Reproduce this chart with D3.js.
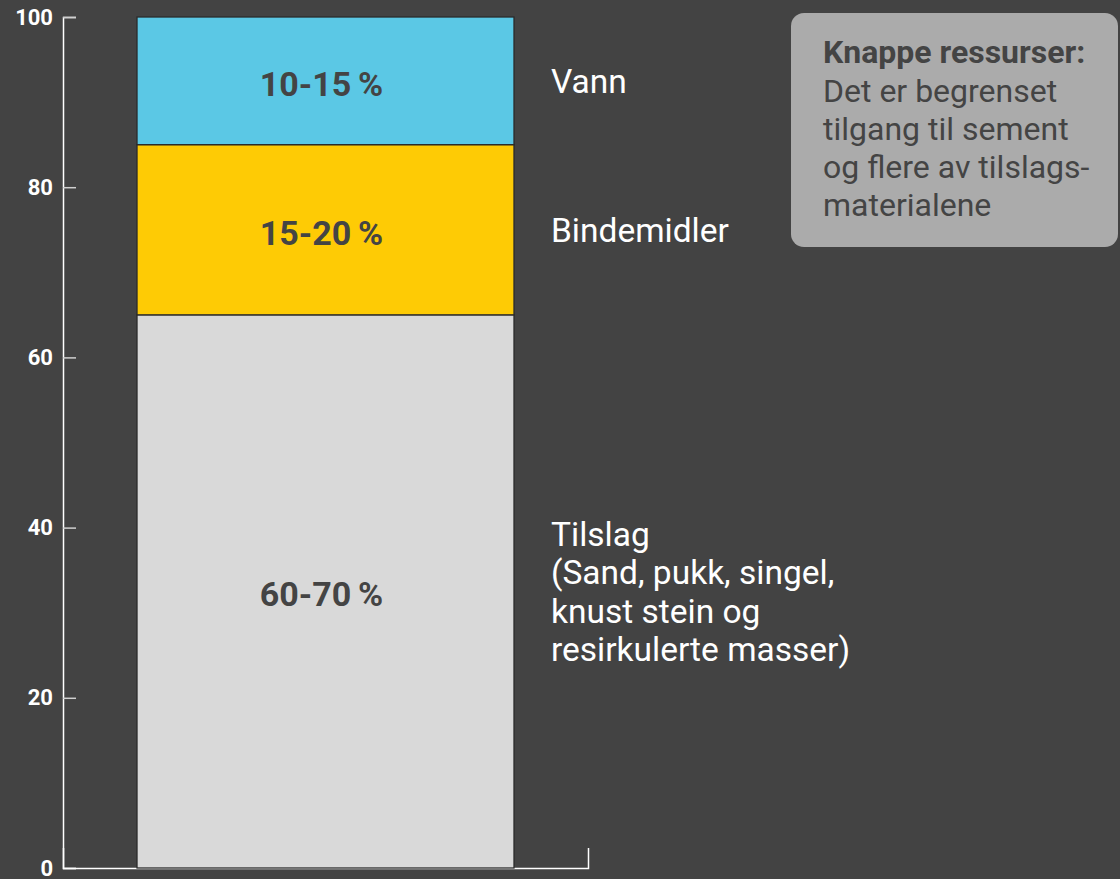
<!DOCTYPE html>
<html>
<head>
<meta charset="utf-8">
<script src="https://cdn.jsdelivr.net/npm/d3@7"></script>
<style>
  html, body { margin: 0; padding: 0; background: #434343; }
  svg { display: block; font-family: Roboto, "Noto Sans", sans-serif; }
</style>
</head>
<body>
<div id="chart"></div>
<script>
// data, bottom to top
const categories = ['Tilslag', 'Bindemidler', 'Vann'];
const shares = [65, 20, 15];
const rangeLabels = ['60-70\u2009%', '15-20\u2009%', '10-15\u2009%'];
const categoryLines = [
  ['Tilslag', '(Sand, pukk, singel,', 'knust stein og', 'resirkulerte masser)'],
  ['Bindemidler'],
  ['Vann']
];
const colors = ['#d9d9d9', '#fecb05', '#5bc8e5'];
const yTicks = [0, 20, 40, 60, 80, 100];
const noteTitle = 'Knappe ressurser:';
const noteLines = ['Det er begrenset', 'tilgang til sement', 'og flere av tilslags-', 'materialene'];

const width = 1120;
const height = 879;

const svg = d3.select('#chart')
  .append('svg')
  .attr('width', width)
  .attr('height', height);

const x = d3.scaleBand()
  .domain(['Betong'])
  .range([63, 588])
  .paddingInner(0)
  .paddingOuter(0.1963);

const y = d3.scaleLinear()
  .domain([0, 100])
  .range([868, 17]);

// stack the single column
const row = { name: 'Betong' };
categories.forEach((c, i) => { row[c] = shares[i]; });
const series = d3.stack().keys(categories)([row]);

// y axis, ticks pointing inward
const yAxis = svg.append('g')
  .attr('transform', `translate(${x.range()[0]},0)`)
  .call(d3.axisLeft(y).tickValues(yTicks).tickSize(-13).tickPadding(10));
yAxis.select('.domain').attr('stroke', '#fff').attr('stroke-width', 1.5);
yAxis.selectAll('.tick line').attr('stroke', '#d0d0d0').attr('stroke-width', 1.5);
yAxis.selectAll('.tick text')
  .attr('fill', '#fff')
  .attr('font-size', 22)
  .attr('font-weight', 700)
  .attr('font-family', 'Roboto, sans-serif');

// x axis: just the baseline with an upturned end
const xAxis = svg.append('g')
  .attr('transform', `translate(0,${y(0)})`)
  .call(d3.axisBottom(x).tickValues([]).tickSizeOuter(-20));
xAxis.select('.domain').attr('stroke', '#fff').attr('stroke-width', 1.5);

// bar segments
const seg = svg.append('g')
  .selectAll('g')
  .data(series)
  .enter()
  .append('g');

seg.append('rect')
  .attr('x', x('Betong'))
  .attr('width', x.bandwidth())
  .attr('y', d => y(d[0][1]))
  .attr('height', d => y(d[0][0]) - y(d[0][1]))
  .attr('fill', (d, i) => colors[i])
  .attr('stroke', '#2b2b2b')
  .attr('stroke-width', 1.3);

// percentage labels inside the bar
seg.append('text')
  .attr('x', x('Betong') + x.bandwidth() / 2 - 4)
  .attr('y', d => (y(d[0][0]) + y(d[0][1])) / 2 + 15)
  .attr('text-anchor', 'middle')
  .attr('fill', '#444')
  .attr('font-size', 34)
  .attr('font-weight', 700)
  .text((d, i) => rangeLabels[i]);

// category labels to the right
const lineH = 38.5;
seg.append('text')
  .attr('fill', '#fff')
  .attr('font-size', 33.5)
  .each(function (d, i) {
    const lines = categoryLines[i];
    const mid = (y(d[0][0]) + y(d[0][1])) / 2;
    const first = mid + 12 - (lines.length - 1) * lineH / 2;
    d3.select(this).selectAll('tspan')
      .data(lines)
      .enter()
      .append('tspan')
      .attr('x', 551)
      .attr('y', (t, j) => first + j * lineH)
      .text(t => t);
  });

// note box
const note = svg.append('g');
note.append('rect')
  .attr('x', 791)
  .attr('y', 13)
  .attr('width', 327)
  .attr('height', 234)
  .attr('rx', 13)
  .attr('fill', '#ababab');

const noteText = note.append('text')
  .attr('fill', '#444')
  .attr('font-size', 32);
noteText.append('tspan')
  .attr('x', 823)
  .attr('y', 63)
  .attr('font-weight', 700)
  .text(noteTitle);
noteText.selectAll('tspan.l')
  .data(noteLines)
  .enter()
  .append('tspan')
  .attr('class', 'l')
  .attr('x', 823)
  .attr('y', (t, j) => 101.5 + j * 38.3)
  .text(t => t);
</script>
</body>
</html>
